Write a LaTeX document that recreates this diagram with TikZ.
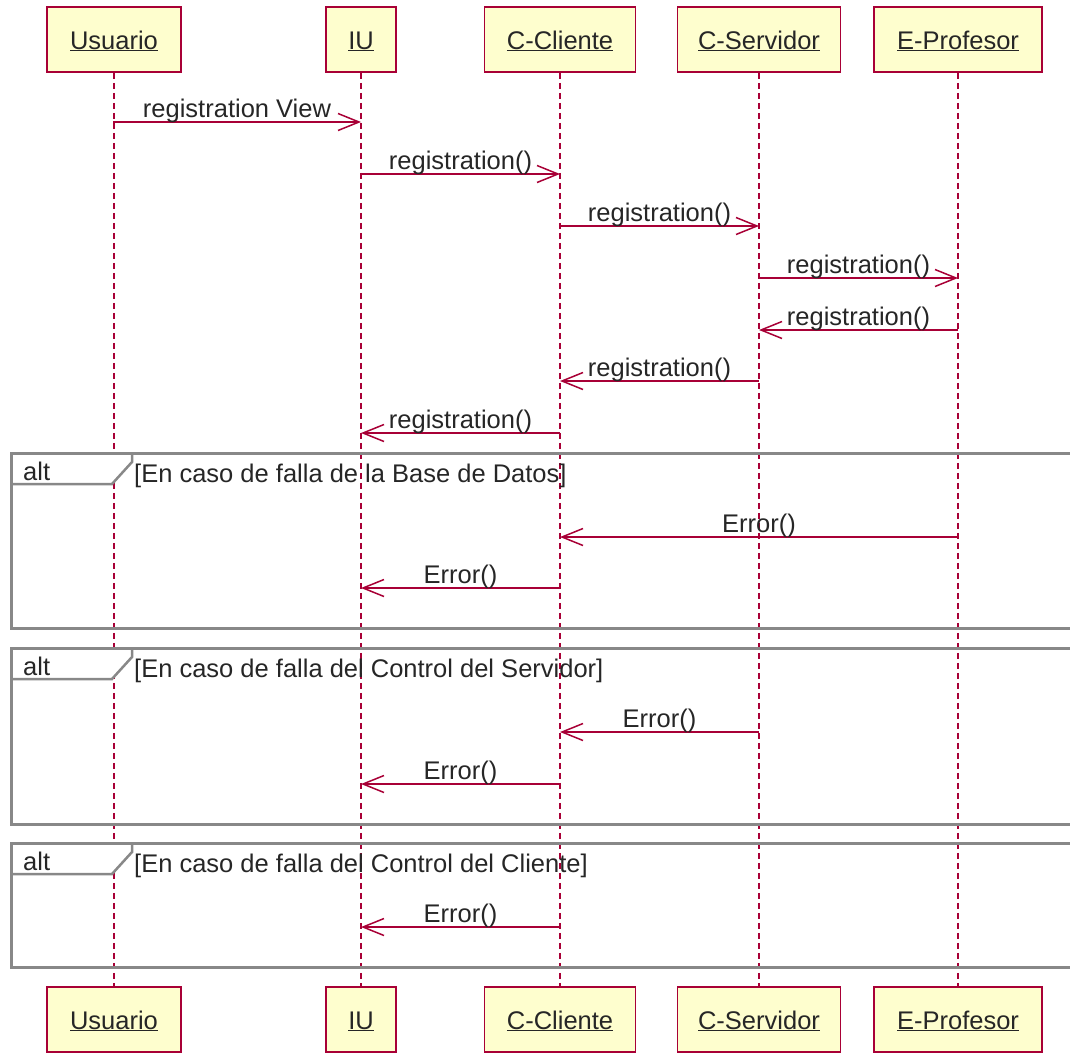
\documentclass[tikz,border=0pt]{standalone}
\usepackage{fontspec}
\setmainfont{Liberation Sans}
\usetikzlibrary{arrows.meta}
\definecolor{umlred}{HTML}{A80036}
\definecolor{umlfill}{HTML}{FEFECE}
\definecolor{framegray}{HTML}{888888}
\begin{document}
\begin{tikzpicture}[x=1pt,y=-1pt,
  part/.style={draw=umlred,fill=umlfill,line width=1.5pt,minimum height=65pt,inner sep=0pt,
    font=\fontsize{25.5}{30}\selectfont,text=black!85},
  life/.style={draw=umlred,line width=1.5pt,dash pattern=on 6pt off 4pt},
  msg/.style={draw=umlred,line width=1.5pt,-{Straight Barb[length=21pt,width=17pt,line width=1.5pt]}},
  lbl/.style={font=\fontsize{25.5}{30}\selectfont,text=black!85,anchor=base,inner sep=0pt,yshift=5pt},
  frm/.style={draw=framegray,line width=3pt},
  grd/.style={font=\fontsize{25.5}{30}\selectfont,text=black!85,anchor=base west,inner sep=0pt}]
\useasboundingbox (0,0) rectangle (1070,1053);
\clip (0,0) rectangle (1070,1053);
% participants
\foreach \n/\x/\w/\t in {u/114/134/Usuario, iu/361/70/IU, cc/560/151/C-Cliente, cs/759/163/C-Servidor, ep/958/168/E-Profesor}{
  \node[part,minimum width=\w pt] (\n1) at (\x,39.5) {\raisebox{-9.5pt}[0pt][0pt]{\underline{\t}}};
  \node[part,minimum width=\w pt] (\n2) at (\x,1019.5) {\raisebox{-9.5pt}[0pt][0pt]{\underline{\t}}};
  \draw[life] (\n1.south) -- (\n2.north);
}
% coordinates on lifelines
\foreach \n/\x in {u/113, iu/361, cc/560, cs/759, ep/958}{
  \foreach \k/\y in {1/122,2/174,3/226,4/278,5/330,6/381,7/433,8/537,9/588,10/732,11/784,12/927}{
    \coordinate (\n-\k) at (\x,\y);
  }
}
% frames
\foreach \k/\top/\bot/\g in {1/453/628/{[En caso de falla de la Base de Datos]},
  2/648/824/{[En caso de falla del Control del Servidor]},
  3/843/967/{[En caso de falla del Control del Cliente]}}{
  \coordinate (ftl\k) at (11,\top);
  \coordinate (fbr\k) at (1090,\bot);
  \fill[white] (11,\top) -- (132,\top) -- (132,\top+9) -- (112,\top+31) -- (11,\top+31) -- cycle;
  \draw[frm] (ftl\k) rectangle (fbr\k);
  \draw[frm,line width=2.5pt] (11,\top+31) -- (112,\top+31) -- (132,\top+9) -- (132,\top);
  \node[grd] (alt\k) at (23,\top+27) {alt};
  \node[grd] (g\k) at (134,\top+29) {\g};
}
% messages
\draw[msg] (u-1) -- node[lbl] {registration View} (iu-1);
\draw[msg] (iu-2) -- node[lbl] {registration()} (cc-2);
\draw[msg] (cc-3) -- node[lbl] {registration()} (cs-3);
\draw[msg] (cs-4) -- node[lbl] {registration()} (ep-4);
\draw[msg] (ep-5) -- node[lbl] {registration()} (cs-5);
\draw[msg] (cs-6) -- node[lbl] {registration()} (cc-6);
\draw[msg] (cc-7) -- node[lbl] {registration()} (iu-7);
\draw[msg] (ep-8) -- node[lbl] {Error()} (cc-8);
\draw[msg] (cc-9) -- node[lbl] {Error()} (iu-9);
\draw[msg] (cs-10) -- node[lbl] {Error()} (cc-10);
\draw[msg] (cc-11) -- node[lbl] {Error()} (iu-11);
\draw[msg] (cc-12) -- node[lbl] {Error()} (iu-12);
\end{tikzpicture}
\end{document}
